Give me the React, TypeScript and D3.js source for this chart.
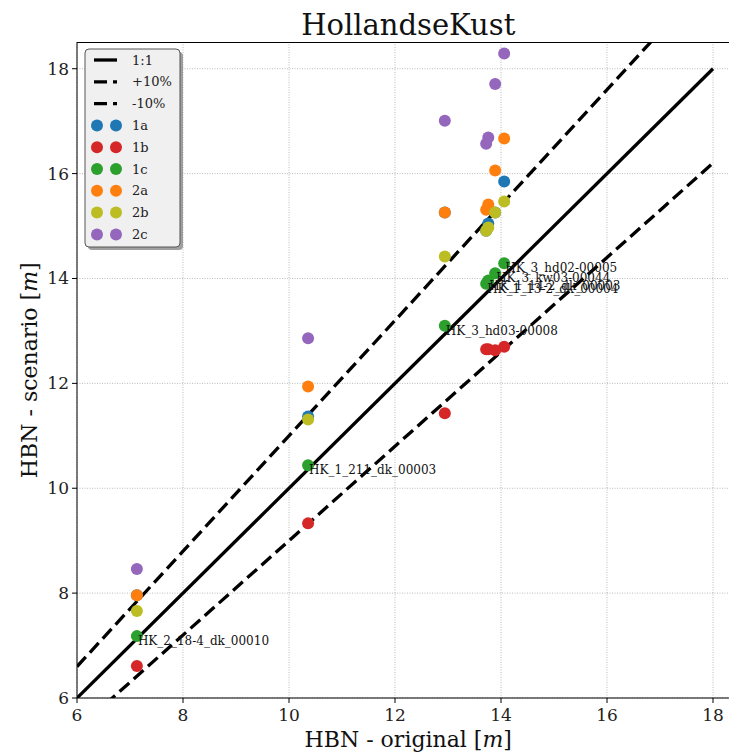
import React from "react";
import * as d3 from "d3";

// original HBN per location
const original = [7.13, 10.36, 12.94, 13.72, 13.76, 13.89, 14.06];
// scenario HBN per variant
const s1a = [7.96, 11.37, 15.26, 14.91, 15.05, 15.26, 15.85];
const s1b = [6.61, 9.33, 11.43, 12.65, 12.65, 12.63, 12.7];
const s1c = [7.18, 10.44, 13.1, 13.9, 13.96, 14.1, 14.29];
const s2a = [7.96, 11.94, 15.26, 15.31, 15.41, 16.06, 16.67];
const s2b = [7.66, 11.31, 14.42, 14.91, 14.97, 15.26, 15.47];
const s2c = [8.46, 12.86, 17.01, 16.57, 16.69, 17.71, 18.29];
const locations = [
  "HK_2_18-4_dk_00010",
  "HK_1_211_dk_00003",
  "HK_3_hd03-00008",
  "HK_1_13-2_dk_00004",
  "HK_1_14-2_dk_00003",
  "HK_3_kw03-00044",
  "HK_3_hd02-00005",
];
const ticks = [6, 8, 10, 12, 14, 16, 18];

const seriesNames = ["1a", "1b", "1c", "2a", "2b", "2c"];
const seriesValues = [s1a, s1b, s1c, s2a, s2b, s2c];
const colors = ["#1f77b4", "#d62728", "#2ca02c", "#ff7f0e", "#bcbd22", "#9467bd"];

const W = 729, H = 754;
// the axes run a little past the right edge of the picture
const margin = { top: 42.5, right: -10.5, bottom: 56, left: 77 };
const font = "'DejaVu Serif', serif";

export default function App() {
  const x = d3.scaleLinear().domain([6, 18.5]).range([margin.left, W - margin.right]);
  const y = d3.scaleLinear().domain([6, 18.5]).range([H - margin.bottom, margin.top]);
  const [x0, x1] = x.range();
  const [y0, y1] = y.range();

  // reference lines 1:1, +10%, -10%
  const refs = [
    { f: 1, dash: "none" },
    { f: 1.1, dash: "13,6" },
    { f: 0.9, dash: "13,6" },
  ];
  const line = d3.line<number[]>().x(d => x(d[0])).y(d => y(d[1]));

  const legendRows = ["1:1", "+10%", "-10%", ...seriesNames];

  return (
    <svg width={W} height={H} style={{ position: "absolute", left: 0, top: 0, background: "#fff" }}>
      <defs>
        <clipPath id="plot">
          <rect x={x0} y={y1} width={x1 - x0} height={y0 - y1} />
        </clipPath>
      </defs>
      {/* grid */}
      <g stroke="#a8a8a8" strokeWidth={0.8} strokeDasharray="1,1.5">
        {ticks.map(t => (
          <line key={"gx" + t} x1={x(t)} x2={x(t)} y1={y0} y2={y1} />
        ))}
        {ticks.map(t => (
          <line key={"gy" + t} x1={x0} x2={x1} y1={y(t)} y2={y(t)} />
        ))}
      </g>
      {/* reference lines */}
      <g clipPath="url(#plot)" fill="none" stroke="#000" strokeWidth={3.3}>
        {refs.map((r, i) => (
          <path key={i} d={line([[6, 6 * r.f], [18, 18 * r.f]]) || ""} strokeDasharray={r.dash} />
        ))}
      </g>
      {/* scatter */}
      <g clipPath="url(#plot)">
        {seriesValues.map((vals, si) =>
          vals.map((v, i) => (
            <circle key={si + "-" + i} cx={x(original[i])} cy={y(v)} r={6} fill={colors[si]} />
          ))
        )}
      </g>
      {/* location labels at 1c points */}
      <g fontFamily={font} fontSize={12} fill="#111">
        {locations.map((name, i) => (
          <text key={name} x={x(original[i]) + 1} y={y(s1c[i]) + 5} dy="0.35em">{name}</text>
        ))}
      </g>
      {/* frame */}
      <rect x={x0} y={y1} width={x1 - x0} height={y0 - y1} fill="none" stroke="#000" strokeWidth={1} />
      {/* axes ticks */}
      <g fontFamily={font} fontSize={17} fill="#222">
        {ticks.map(t => (
          <g key={"tx" + t}>
            <line x1={x(t)} x2={x(t)} y1={y0} y2={y0 + 5} stroke="#000" />
            <text x={x(t)} y={y0 + 9} dy="0.8em" textAnchor="middle">{t}</text>
          </g>
        ))}
        {ticks.map(t => (
          <g key={"ty" + t}>
            <line x1={x0 - 5} x2={x0} y1={y(t)} y2={y(t)} stroke="#000" />
            <text x={x0 - 8} y={y(t)} dy="0.35em" textAnchor="end">{t}</text>
          </g>
        ))}
      </g>
      {/* titles */}
      <text x={(x0 + x1) / 2} y={35} textAnchor="middle" fontFamily={font} fontSize={29} fill="#111">
        HollandseKust
      </text>
      <text x={(x0 + x1) / 2} y={747} textAnchor="middle" fontFamily={font} fontSize={22} fill="#111">
        HBN - original [<tspan fontStyle="italic">m</tspan>]
      </text>
      <text transform={`translate(37,${(y0 + y1) / 2}) rotate(-90)`} textAnchor="middle" fontFamily={font} fontSize={22} fill="#111">
        HBN - scenario [<tspan fontStyle="italic">m</tspan>]
      </text>
      {/* legend */}
      <g>
        <rect x={88} y={52} width={95} height={198} rx={4} fill="#777" opacity={0.7} />
        <rect x={85} y={49} width={95} height={198} rx={4} fill="#f0f0f0" stroke="#555" strokeWidth={1} />
        {legendRows.map((label, i) => {
          const ly = 60 + i * 21.8;
          return (
            <g key={label}>
              {i < 3 ? (
                <line x1={94} x2={117} y1={ly} y2={ly} stroke="#000" strokeWidth={3.3} strokeDasharray={refs[i].dash} />
              ) : (
                <>
                  <circle cx={97} cy={ly} r={6} fill={colors[i - 3]} />
                  <circle cx={116} cy={ly} r={6} fill={colors[i - 3]} />
                </>
              )}
              <text x={132} y={ly} dy="0.35em" fontFamily={font} fontSize={13} fill="#222">{label}</text>
            </g>
          );
        })}
      </g>
    </svg>
  );
}
